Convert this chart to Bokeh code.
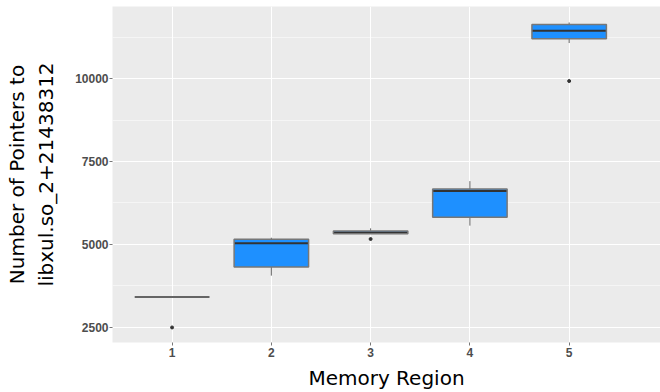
from bokeh.plotting import figure
from bokeh.models import Range1d, FixedTicker
from bokeh.embed import file_html
from bokeh.resources import INLINE

# ---- data ----
regions = ["1", "2", "3", "4", "5"]
xpos = [1, 2, 3, 4, 5]
q1 = [3413, 4316, 5315, 5813, 11205]
med = [3413, 5030, 5360, 6606, 11446]
q3 = [3413, 5151, 5405, 6666, 11636]
lower = [3413, 4054, 5315, 5563, 11075]
upper = [3413, 5199, 5482, 6907, 11696]
out_x = [1, 3, 5]
out_y = [2490, 5160, 9928]
yticks = [2500, 5000, 7500, 10000]
ytick_labels = ["2500", "5000", "7500", "10000"]
yminor = [3750, 6250, 8750, 11250]

box_w = 0.75

p = figure(width=660, height=392, output_backend="svg", toolbar_location=None,
           x_range=Range1d(0.4, 5.92), y_range=Range1d(2036, 12178),
           min_border_left=112, min_border_right=0, min_border_top=6,
           min_border_bottom=49)

p.background_fill_color = "#EBEBEB"
p.border_fill_color = "white"
p.outline_line_color = None

# grids
p.xgrid.ticker = FixedTicker(ticks=xpos)
p.xgrid.grid_line_color = "white"
p.xgrid.grid_line_width = 1
yt = FixedTicker(ticks=yticks, minor_ticks=yminor)
p.yaxis.ticker = yt
p.ygrid.ticker = yt
p.ygrid.grid_line_color = "white"
p.ygrid.grid_line_width = 1
p.ygrid.minor_grid_line_color = "white"
p.ygrid.minor_grid_line_width = 0.5

p.xaxis.ticker = FixedTicker(ticks=xpos)
p.xaxis.major_label_overrides = {x: r for x, r in zip(xpos, regions)}
p.yaxis.major_label_overrides = {t: l for t, l in zip(yticks, ytick_labels)}

for ax in (p.xaxis, p.yaxis):
    ax.axis_line_color = None
    ax.major_tick_line_color = "#777777"
    ax.major_tick_out = 3
    ax.major_tick_in = 0
    ax.minor_tick_out = 0
    ax.minor_tick_in = 0
    ax.major_label_text_font = "Liberation Sans"
    ax.major_label_text_font_style = "bold"
    ax.major_label_text_font_size = "12px"
    ax.major_label_text_color = "#4D4D4D"
    ax.axis_label_text_font = "DejaVu Sans"
    ax.axis_label_text_font_style = "normal"
    ax.axis_label_text_font_size = "20px"
    ax.axis_label_text_color = "black"

p.xaxis.major_label_standoff = 2
p.yaxis.major_label_standoff = 1
p.xaxis.axis_label = "Memory Region"
p.xaxis.axis_label_standoff = 6
p.yaxis.axis_label = "Number of Pointers to\nlibxul.so_2+21438312"
p.yaxis.axis_label_standoff = 14

# whiskers
p.segment(x0=xpos, y0=q3, x1=xpos, y1=upper, line_color="#666666", line_width=1)
p.segment(x0=xpos, y0=q1, x1=xpos, y1=lower, line_color="#666666", line_width=1)
# boxes
p.vbar(x=xpos, width=box_w, bottom=q1, top=q3, fill_color="#1E90FF",
       line_color=None)
# medians
x0s = [x - box_w / 2 for x in xpos]
x1s = [x + box_w / 2 for x in xpos]
p.segment(x0=x0s, y0=med, x1=x1s, y1=med, line_color="#333333", line_width=2)
# box outlines on top
p.vbar(x=xpos, width=box_w, bottom=q1, top=q3, fill_color=None,
       line_color="#777777", line_width=1.5)
# outliers
p.scatter(x=out_x, y=out_y, size=3, fill_color="#333333", line_color="#333333")

open("out.html", "w").write(file_html(p, INLINE))
